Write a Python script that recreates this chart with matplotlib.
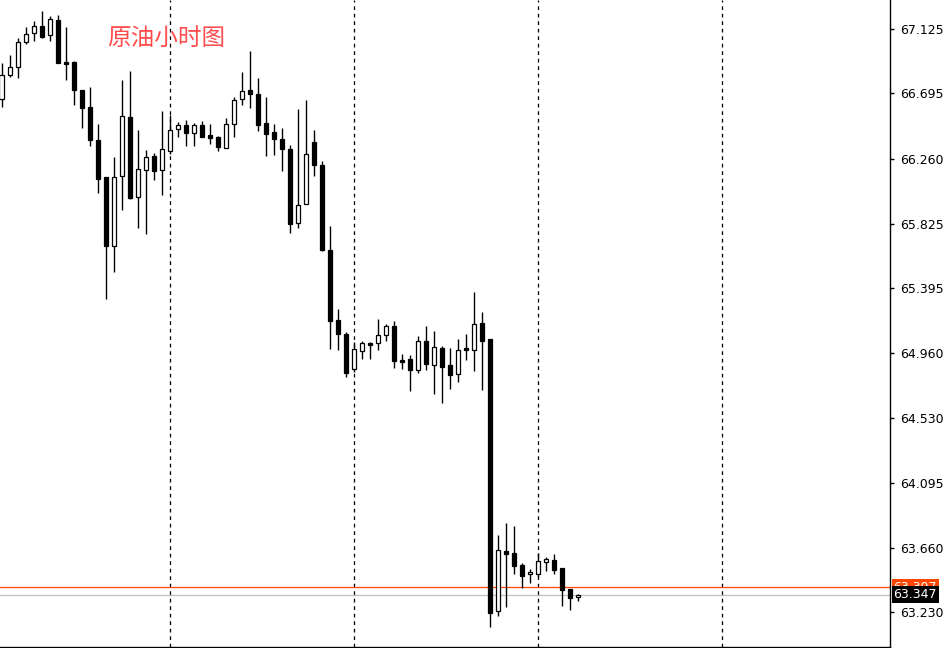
import matplotlib
matplotlib.use('Agg')
import matplotlib.pyplot as plt
import numpy as np

plt.rcParams['font.family'] = ['DejaVu Sans']

# hourly crude oil candles (open, high, low, close)
opens = [66.657, 66.818, 66.871, 67.038, 67.098, 67.145, 67.085, 67.185, 66.905, 66.905,
         66.718, 66.604, 66.384, 66.136, 65.675, 66.143, 66.537, 66.003, 66.183, 66.277,
         66.183, 66.310, 66.457, 66.484, 66.430, 66.484, 66.417, 66.404, 66.330, 66.490,
         66.657, 66.718, 66.691, 66.497, 66.437, 66.390, 66.323, 65.829, 65.956, 66.370,
         66.217, 65.649, 65.181, 65.088, 64.854, 64.974, 65.027, 65.027, 65.081, 65.141,
         64.914, 64.921, 64.847, 65.041, 64.880, 64.994, 64.880, 64.820, 64.994, 64.981,
         65.161, 65.054, 63.237, 63.638, 63.625, 63.545, 63.484, 63.484, 63.565, 63.578,
         63.525, 63.384, 63.331]
highs = [66.898, 66.951, 67.065, 67.138, 67.178, 67.245, 67.212, 67.219, 67.138, 66.911,
         66.718, 66.738, 66.490, 66.136, 66.270, 66.784, 66.844, 66.450, 66.317, 66.297,
         66.577, 66.551, 66.504, 66.517, 66.497, 66.510, 66.490, 66.410, 66.530, 66.671,
         66.838, 66.978, 66.798, 66.671, 66.490, 66.464, 66.350, 66.591, 66.651, 66.450,
         66.243, 65.809, 65.255, 65.101, 65.034, 65.041, 65.034, 65.188, 65.154, 65.174,
         64.954, 64.947, 65.074, 65.141, 65.108, 65.007, 64.994, 65.054, 65.088, 65.368,
         65.235, 65.054, 63.745, 63.825, 63.805, 63.558, 63.518, 63.625, 63.598, 63.618,
         63.525, 63.384, 63.351]
lows = [66.604, 66.804, 66.798, 67.025, 67.045, 67.065, 67.045, 66.898, 66.784, 66.617,
        66.464, 66.343, 66.030, 65.321, 65.502, 65.916, 65.989, 65.796, 65.756, 66.116,
        66.016, 66.290, 66.404, 66.343, 66.343, 66.404, 66.357, 66.310, 66.330, 66.404,
        66.617, 66.597, 66.444, 66.277, 66.283, 66.177, 65.762, 65.796, 65.956, 66.143,
        65.642, 64.987, 64.981, 64.800, 64.834, 64.921, 64.921, 64.981, 65.041, 64.860,
        64.854, 64.707, 64.827, 64.847, 64.687, 64.627, 64.720, 64.767, 64.914, 64.840,
        64.714, 63.130, 63.204, 63.264, 63.484, 63.391, 63.424, 63.464, 63.505, 63.484,
        63.271, 63.244, 63.304]
closes = [66.818, 66.871, 67.038, 67.092, 67.145, 67.072, 67.192, 66.898, 66.891, 66.718,
          66.597, 66.384, 66.123, 65.675, 66.136, 66.544, 65.996, 66.190, 66.270, 66.177,
          66.323, 66.450, 66.484, 66.430, 66.484, 66.404, 66.397, 66.337, 66.490, 66.651,
          66.711, 66.691, 66.484, 66.424, 66.390, 66.323, 65.822, 65.949, 66.290, 66.217,
          65.649, 65.174, 65.088, 64.827, 64.987, 65.027, 65.014, 65.081, 65.141, 64.907,
          64.900, 64.847, 65.041, 64.887, 65.001, 64.867, 64.814, 64.981, 64.981, 65.154,
          65.041, 63.224, 63.645, 63.618, 63.538, 63.471, 63.498, 63.571, 63.585, 63.511,
          63.378, 63.324, 63.347]

price_ticks = [67.125, 66.695, 66.260, 65.825, 65.395, 64.960, 64.530, 64.095, 63.660, 63.230]
day_breaks = [21, 44, 67, 90]
bid = 63.347
ask = 63.397
title = '原油小时图'

fig = plt.figure(figsize=(9.52, 6.48), dpi=100)
ax = fig.add_axes([0, 1 - 647/648, 890/952, 647/648])
ax.set_xlim(-0.1875, 111.06)
ax.set_ylim(62.997, 67.319)

x = np.arange(len(opens))
o = np.array(opens); h = np.array(highs); l = np.array(lows); c = np.array(closes)
up = c >= o

# day separators
for d in day_breaks:
    ax.axvline(d, color='black', lw=0.9, ls=(0, (3, 3)), zorder=1)

# ask / bid lines
ax.axhline(ask, color='#ff4500', lw=0.9, zorder=1)
ax.axhline(bid, color='#c0c0c0', lw=0.9, zorder=1)

# wicks
ax.vlines(x, l, h, color='black', lw=1.0, zorder=2)
# bodies
body_h = np.abs(c - o)
body_h = np.where(body_h < 0.004, 0.004, body_h)
bottoms = np.minimum(o, c)
ax.bar(x[up], body_h[up], bottom=bottoms[up], width=0.5, color='white',
       edgecolor='black', lw=0.9, zorder=3)
ax.bar(x[~up], body_h[~up], bottom=bottoms[~up], width=0.5, color='black',
       edgecolor='black', lw=0.9, zorder=3)

ax.text(107/890, 1 - 38/647, title, transform=ax.transAxes, color='#ff4d4d',
        fontsize=17, va='center', ha='left',
        family=['Noto Sans CJK SC', 'DejaVu Sans'])

# right price axis
ax.yaxis.tick_right()
ax.set_yticks(price_ticks)
ax.set_yticklabels(['%.3f' % p for p in price_ticks])
ax.tick_params(axis='y', length=3, width=1, pad=4, labelsize=9, colors='black')
ax.set_xticks([])
for s in ['left', 'top']:
    ax.spines[s].set_visible(False)
ax.spines['right'].set_linewidth(1.0)
ax.spines['bottom'].set_linewidth(1.0)

# price labels on the axis
ax.text(1.004, ask, '%.3f' % ask, transform=ax.get_yaxis_transform(), color='white',
        fontsize=9, va='center', ha='left', zorder=5, clip_on=False,
        bbox=dict(boxstyle='square,pad=0.15', fc='#ff4500', ec='none'))
ax.text(1.004, bid, '%.3f' % bid, transform=ax.get_yaxis_transform(), color='white',
        fontsize=9, va='center', ha='left', zorder=6, clip_on=False,
        bbox=dict(boxstyle='square,pad=0.15', fc='black', ec='none'))

fig.savefig('out.png', dpi=100, facecolor='white')
